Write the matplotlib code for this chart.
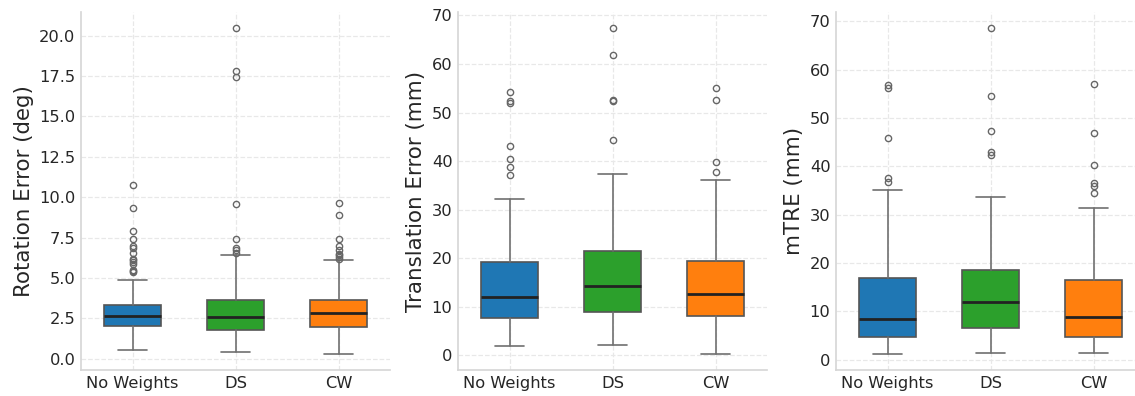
import numpy as np
import matplotlib
matplotlib.use('Agg')
import matplotlib.pyplot as plt
import seaborn as sns

sns.set_style('whitegrid')
plt.rcParams['font.family'] = ['DejaVu Sans']

methods = ['No Weights', 'DS', 'CW']
colors = ['#1f77b4', '#2ca02c', '#ff7f0e']

# box stats per method: q1, median, q3, whisker low, whisker high
rot_q1 = [2.02, 1.77, 1.98]
rot_med = [2.63, 2.59, 2.80]
rot_q3 = [3.35, 3.64, 3.64]
rot_lo = [0.53, 0.43, 0.31]
rot_hi = [4.90, 6.40, 6.13]
rot_fliers = [
    [5.35, 5.45, 5.5, 5.85, 6.0, 6.1, 6.2, 6.55, 6.85, 7.0, 7.4, 7.9, 9.3, 10.75],
    [6.55, 6.7, 6.83, 7.4, 9.55, 17.45, 17.8, 20.45],
    [6.15, 6.3, 6.4, 6.5, 6.7, 7.0, 7.4, 8.9, 9.65],
]

tra_q1 = [7.6, 8.97, 8.21]
tra_med = [11.98, 14.24, 12.73]
tra_q3 = [19.16, 21.56, 19.37]
tra_lo = [1.85, 2.19, 0.34]
tra_hi = [32.17, 37.44, 36.2]
tra_fliers = [
    [37.2, 38.8, 40.45, 43.1, 51.9, 52.3, 54.2],
    [44.35, 52.3, 52.57, 61.88, 67.35],
    [37.71, 39.84, 52.63, 54.96],
]

tre_q1 = [4.61, 6.47, 4.75]
tre_med = [8.47, 11.9, 8.74]
tre_q3 = [16.86, 18.65, 16.45]
tre_lo = [1.24, 1.38, 1.38]
tre_hi = [35.17, 33.7, 31.3]
tre_fliers = [
    [36.8, 37.5, 45.77, 56.1, 56.8],
    [42.26, 43.0, 47.35, 54.6, 68.55],
    [34.4, 36.0, 36.6, 40.26, 46.9, 57.1],
]

panels = [
    ('Rotation Error (deg)', rot_q1, rot_med, rot_q3, rot_lo, rot_hi, rot_fliers),
    ('Translation Error (mm)', tra_q1, tra_med, tra_q3, tra_lo, tra_hi, tra_fliers),
    ('mTRE (mm)', tre_q1, tre_med, tre_q3, tre_lo, tre_hi, tre_fliers),
]

W, H = 1135, 396
fig = plt.figure(figsize=(W / 100, H / 100), dpi=100)
lefts = [81, 458, 836]
aw, bottom, top = 309, 370, 12

for left, (ylabel, q1, med, q3, lo, hi, fl) in zip(lefts, panels):
    ax = fig.add_axes([left / W, 1 - bottom / H, aw / W, (bottom - top) / H])
    stats = []
    for i, m in enumerate(methods):
        stats.append(dict(label=m, q1=q1[i], med=med[i], q3=q3[i],
                          whislo=lo[i], whishi=hi[i], fliers=fl[i]))
    bp = ax.bxp(stats, positions=range(3), widths=0.55, patch_artist=True,
                boxprops=dict(edgecolor='#555555', linewidth=1.2),
                whiskerprops=dict(color='#707070', linewidth=1.2),
                capprops=dict(color='#707070', linewidth=1.2),
                medianprops=dict(color='#222222', linewidth=2),
                flierprops=dict(marker='o', markersize=4.5, markerfacecolor='none',
                                markeredgecolor='#666666', markeredgewidth=1.0))
    for patch, c in zip(bp['boxes'], colors):
        patch.set_facecolor(c)
    ax.set_xlim(-0.5, 2.5)
    ax.set_ylabel(ylabel, fontsize=15.4, color='#262626')
    ax.tick_params(labelsize=11.7, colors='#262626', length=0, pad=4)
    ax.grid(True, linestyle='--', color='#e8e8e8', linewidth=0.9)
    ax.set_axisbelow(True)
    for s in ['top', 'right']:
        ax.spines[s].set_visible(False)
    for s in ['left', 'bottom']:
        ax.spines[s].set_color('#d5d5d5')
        ax.spines[s].set_linewidth(1.2)

fig.savefig('out.png', dpi=100)
